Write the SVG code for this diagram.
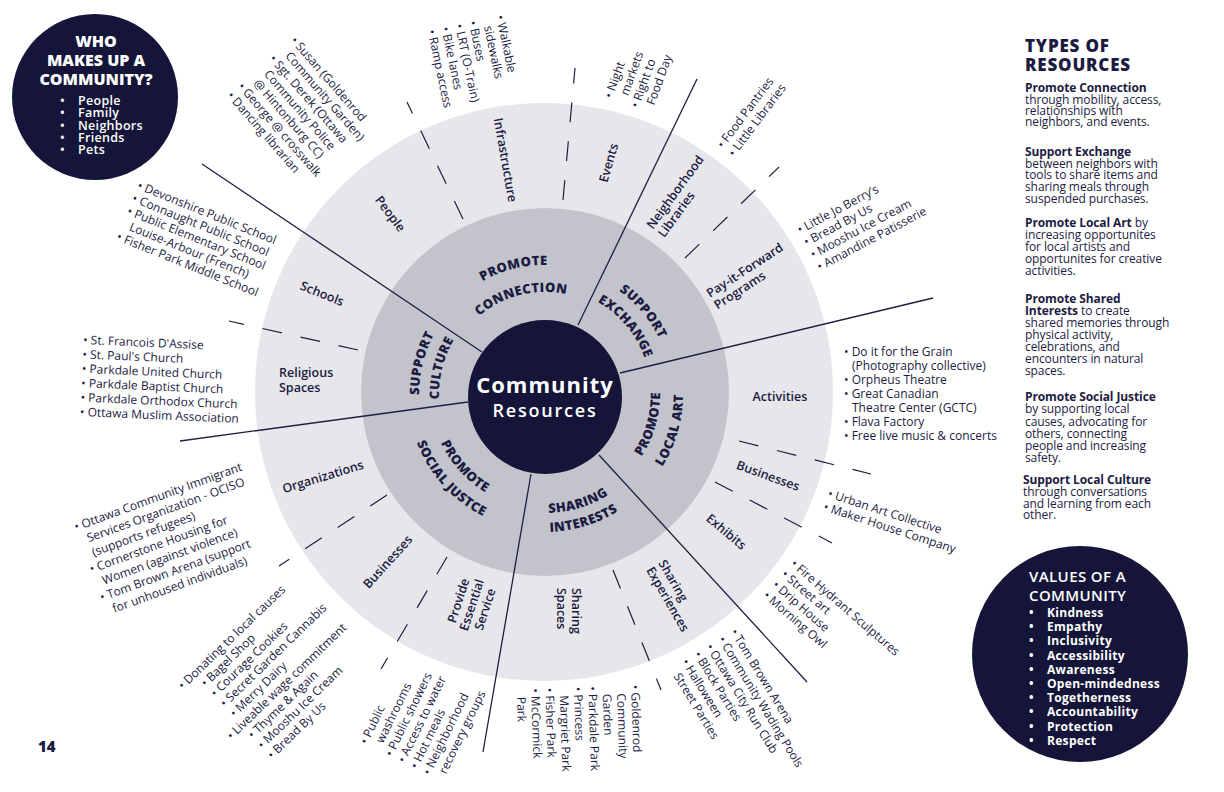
<svg xmlns="http://www.w3.org/2000/svg" width="1224" height="792" viewBox="0 0 1224 792">
<style>
.t{font-family:'Open Sans','Liberation Sans',sans-serif;fill:#1c1c42}
.l{font-size:12px}
.lab{font-size:12.5px;font-weight:600}
.mid{font-family:'Open Sans','Liberation Sans',sans-serif;fill:#1c1c42;font-size:13px;font-weight:800;letter-spacing:0.4px}
.w{font-family:'Open Sans','Liberation Sans',sans-serif;fill:#ffffff}
.div{stroke:#1e1e44;stroke-width:1.3;fill:none}
.dash{stroke:#1e1e44;stroke-width:1.2;fill:none;stroke-dasharray:20 19}
.p{font-size:12px;letter-spacing:-0.1px}
.bd{font-weight:700}
</style>
<defs>
<path id="pc1" d="M 421.0 358.4 A 129 129 0 0 1 637.8 304.4"/>
<path id="pc2" d="M 446.9 365.9 A 102 102 0 0 1 618.4 323.1"/>
<path id="se1" d="M 523.0 268.9 A 127 127 0 0 1 664.3 437.4"/>
<path id="se2" d="M 526.6 289.6 A 106 106 0 0 1 644.6 430.3"/>
<path id="sc1" d="M 457.5 484.6 A 126 126 0 0 1 510.3 272.9"/>
<path id="sc2" d="M 471.4 470.2 A 106 106 0 0 1 515.8 292.1"/>
<path id="la1" d="M 572.8 505.6 A 115 115 0 0 0 627.7 314.1"/>
<path id="la2" d="M 578.4 527.9 A 138 138 0 0 0 644.3 298.1"/>
<path id="si1" d="M 463.8 481.0 A 119 119 0 0 0 661.0 420.8"/>
<path id="si2" d="M 450.9 494.9 A 138 138 0 0 0 679.5 425.1"/>
<path id="sj1" d="M 435.6 358.5 A 115 115 0 0 0 568.9 506.5"/>
<path id="sj2" d="M 414.7 351.7 A 137 137 0 0 0 573.5 528.0"/>
</defs>
<rect width="1224" height="792" fill="#ffffff"/>

<g id="wheel">
<circle cx="544" cy="392" r="289" fill="#e7e7eb"/>
<circle cx="545" cy="392" r="184" fill="#c3c3cc"/>
</g>

<g id="connectors">
<line class="div" x1="202" y1="164" x2="482" y2="352"/>
<line class="div" x1="697" y1="79" x2="578" y2="325"/>
<line class="div" x1="933" y1="298" x2="620" y2="373"/>
<line class="div" x1="180" y1="441" x2="468" y2="402"/>
<line class="div" x1="483" y1="752" x2="531" y2="474"/>
<line class="div" x1="807" y1="682" x2="599" y2="455"/>
<line class="dash" x1="463" y1="219" x2="407" y2="102"/>
<line class="dash" x1="563" y1="200" x2="575" y2="68"/>
<line class="dash" x1="685" y1="258" x2="779" y2="167"/>
<line class="dash" x1="739" y1="441" x2="871" y2="474"/>
<line class="dash" x1="715" y1="482" x2="832" y2="543"/>
<line class="dash" x1="613" y1="570" x2="661" y2="690"/>
<line class="dash" x1="447" y1="557" x2="381" y2="669"/>
<line class="dash" x1="387" y1="495" x2="279" y2="566"/>
<line class="dash" x1="358" y1="350" x2="229" y2="321"/>
</g>

<g id="center">
<circle cx="545" cy="397" r="77" fill="#141538"/>
<text class="w" x="545" y="393" text-anchor="middle" font-size="22" font-weight="700" letter-spacing="1">Community</text>
<text class="w" x="545" y="417" text-anchor="middle" font-size="18" font-weight="600" letter-spacing="1.8">Resources</text>
</g>

<g id="promote-connection">
<text class="mid"><textPath href="#pc1" startOffset="50%" text-anchor="middle">PROMOTE</textPath></text>
<text class="mid"><textPath href="#pc2" startOffset="50%" text-anchor="middle">CONNECTION</textPath></text>
</g>
<g id="support-exchange">
<text class="mid"><textPath href="#se1" startOffset="50%" text-anchor="middle">SUPPORT</textPath></text>
<text class="mid"><textPath href="#se2" startOffset="50%" text-anchor="middle">EXCHANGE</textPath></text>
</g>
<g id="promote-local-art">
<text class="mid"><textPath href="#la1" startOffset="50%" text-anchor="middle">PROMOTE</textPath></text>
<text class="mid"><textPath href="#la2" startOffset="50%" text-anchor="middle">LOCAL ART</textPath></text>
</g>
<g id="sharing-interests">
<text class="mid"><textPath href="#si1" startOffset="50%" text-anchor="middle">SHARING</textPath></text>
<text class="mid"><textPath href="#si2" startOffset="50%" text-anchor="middle">INTERESTS</textPath></text>
</g>
<g id="promote-social-justice">
<text class="mid"><textPath href="#sj1" startOffset="50%" text-anchor="middle">PROMOTE</textPath></text>
<text class="mid"><textPath href="#sj2" startOffset="50%" text-anchor="middle">SOCIAL JUSTCE</textPath></text>
</g>
<g id="support-culture">
<text class="mid"><textPath href="#sc1" startOffset="50%" text-anchor="middle">SUPPORT</textPath></text>
<text class="mid"><textPath href="#sc2" startOffset="50%" text-anchor="middle">CULTURE</textPath></text>
</g>

<g id="people">
<text class="t lab" transform="translate(390 214) rotate(53)" text-anchor="middle" y="4">People</text>
<text class="t l" transform="translate(290 41) rotate(49)"><tspan x="0" y="0">• Susan (Goldenrod</tspan><tspan x="8" y="14">Community Garden)</tspan><tspan x="0" y="28">• Sgt. Derek (Ottawa</tspan><tspan x="8" y="42">Community Police</tspan><tspan x="8" y="56">@ Hintonburg CC)</tspan><tspan x="0" y="70">• George @ crosswalk</tspan><tspan x="0" y="84">• Dancing librarian</tspan></text>
</g>
<g id="infrastructure">
<text class="t lab" transform="translate(505 160) rotate(80)" text-anchor="middle" y="4">Infrastructure</text>
<text class="t l" transform="translate(496 16) rotate(78)"><tspan x="0" y="0">• Walkable</tspan><tspan x="8" y="14">sidewalks</tspan><tspan x="0" y="28">• Buses</tspan><tspan x="0" y="42">• LRT (O-Train)</tspan><tspan x="0" y="56">• Bike lanes</tspan><tspan x="0" y="70">• Ramp access</tspan></text>
</g>
<g id="events">
<text class="t lab" transform="translate(609 163) rotate(-74)" text-anchor="middle" y="4">Events</text>
<text class="t l" transform="translate(612 99) rotate(-70)"><tspan x="0" y="0">• Night</tspan><tspan x="8" y="14">markets</tspan><tspan x="0" y="28">• Right to</tspan><tspan x="8" y="42">Food Day</tspan></text>
</g>
<g id="neighborhood-libraries">
<text class="t lab" transform="translate(653 230) rotate(-54)"><tspan x="0" y="0">Neighborhood</tspan><tspan x="0" y="14">Libraries</tspan></text>
<text class="t l" transform="translate(723 149) rotate(-53)"><tspan x="0" y="0">• Food Pantries</tspan><tspan x="0" y="14">• Little Libraries</tspan></text>
</g>
<g id="pay-it-forward">
<text class="t lab" transform="translate(710 298) rotate(-33)"><tspan x="0" y="0">Pay-it-Forward</tspan><tspan x="0" y="14">Programs</tspan></text>
<text class="t l" transform="translate(800 234) rotate(-28)"><tspan x="0" y="0">• Little Jo Berry’s</tspan><tspan x="0" y="14">• Bread By Us</tspan><tspan x="0" y="28">• Mooshu Ice Cream</tspan><tspan x="0" y="42">• Amandine Patisserie</tspan></text>
</g>
<g id="activities">
<text class="t lab" x="780" y="401" text-anchor="middle">Activities</text>
<text class="t l"><tspan x="844" y="356">• Do it for the Grain</tspan><tspan x="852" y="370">(Photography collective)</tspan><tspan x="844" y="384">• Orpheus Theatre</tspan><tspan x="844" y="398">• Great Canadian</tspan><tspan x="852" y="412">Theatre Center (GCTC)</tspan><tspan x="844" y="426">• Flava Factory</tspan><tspan x="844" y="440">• Free live music &amp; concerts</tspan></text>
</g>
<g id="art-businesses">
<text class="t lab" transform="translate(768 476) rotate(20)" text-anchor="middle" y="4">Businesses</text>
<text class="t l" transform="translate(827 497) rotate(18)"><tspan x="0" y="0">• Urban Art Collective</tspan><tspan x="0" y="14">• Maker House Company</tspan></text>
</g>
<g id="exhibits">
<text class="t lab" transform="translate(726 532) rotate(40)" text-anchor="middle" y="4">Exhibits</text>
<text class="t l" transform="translate(790 565) rotate(41)"><tspan x="0" y="0">• Fire Hydrant Sculptures</tspan><tspan x="0" y="14">• Street art</tspan><tspan x="0" y="28">• Drip House</tspan><tspan x="0" y="42">• Morning Owl</tspan></text>
</g>
<g id="sharing-experiences">
<text class="t lab" transform="translate(658 563) rotate(60)"><tspan x="0" y="0">Sharing</tspan><tspan x="0" y="14">Experiences</tspan></text>
<text class="t l" transform="translate(730 632) rotate(58.5)"><tspan x="0" y="0">• Tom Brown Arena</tspan><tspan x="0" y="14.3">• Community Wading Pools</tspan><tspan x="0" y="28.6">• Ottawa City Run Club</tspan><tspan x="0" y="42.9">• Block Parties</tspan><tspan x="0" y="57.2">• Halloween</tspan><tspan x="8" y="71.5">Street Parties</tspan></text>
</g>
<g id="sharing-spaces">
<text class="t lab" transform="translate(572 588) rotate(90)"><tspan x="0" y="0">Sharing</tspan><tspan x="0" y="15">Spaces</tspan></text>
<text class="t l" transform="translate(631 685) rotate(88)"><tspan x="0" y="0">• Goldenrod</tspan><tspan x="8" y="14.3">Community</tspan><tspan x="8" y="28.6">Garden</tspan><tspan x="0" y="42.9">• Parkdale Park</tspan><tspan x="0" y="57.2">• Princess</tspan><tspan x="8" y="71.5">Margriet Park</tspan><tspan x="0" y="85.8">• Fisher Park</tspan><tspan x="0" y="100.1">• McCormick</tspan><tspan x="8" y="114.4">Park</tspan></text>
</g>
<g id="essential-service">
<text class="t lab" transform="translate(472 605) rotate(-72)" text-anchor="middle"><tspan x="0" y="-10">Provide</tspan><tspan x="0" y="4">Essential</tspan><tspan x="0" y="18">Service</tspan></text>
<text class="t l" transform="translate(367 745) rotate(-64)"><tspan x="0" y="0">• Public</tspan><tspan x="8" y="14">washrooms</tspan><tspan x="0" y="28">• Public showers</tspan><tspan x="0" y="42">• Access to water</tspan><tspan x="0" y="56">• Hot meals</tspan><tspan x="0" y="70">• Neighborhood</tspan><tspan x="8" y="84">recovery groups</tspan></text>
</g>
<g id="justice-businesses">
<text class="t lab" transform="translate(388 562) rotate(-48)" text-anchor="middle" y="4">Businesses</text>
<text class="t l" transform="translate(183 690) rotate(-44)"><tspan x="0" y="0">• Donating to local causes</tspan><tspan x="18" y="14">• Bagel Shop</tspan><tspan x="18" y="28">• Courage Cookies</tspan><tspan x="18" y="42">• Secret Garden Cannabis</tspan><tspan x="18" y="56">• Merry Dairy</tspan><tspan x="0" y="70">• Liveable wage commitment</tspan><tspan x="16" y="84">• Thyme &amp; Again</tspan><tspan x="16" y="98">• Mooshu Ice Cream</tspan><tspan x="16" y="112">• Bread By Us</tspan></text>
</g>
<g id="organizations">
<text class="t lab" transform="translate(323 477) rotate(-17)" text-anchor="middle" y="4">Organizations</text>
<text class="t l" transform="translate(76 531) rotate(-20)"><tspan x="0" y="0">• Ottawa Community Immigrant</tspan><tspan x="8" y="15">Services Organization - OCISO</tspan><tspan x="8" y="30">(supports refugees)</tspan><tspan x="0" y="45">• Cornerstone Housing for</tspan><tspan x="8" y="60">Women (against violence)</tspan><tspan x="0" y="75">• Tom Brown Arena (support</tspan><tspan x="8" y="90">for unhoused individuals)</tspan></text>
</g>
<g id="religious-spaces">
<text class="t lab"><tspan x="279" y="377">Religious</tspan><tspan x="279" y="391.5">Spaces</tspan></text>
<text class="t l" transform="translate(83 344) rotate(2.5)"><tspan x="0" y="0">• St. Francois D'Assise</tspan><tspan x="0" y="14.4">• St. Paul's Church</tspan><tspan x="0" y="28.8">• Parkdale United Church</tspan><tspan x="0" y="43.2">• Parkdale Baptist Church</tspan><tspan x="0" y="57.6">• Parkdale Orthodox Church</tspan><tspan x="0" y="72">• Ottawa Muslim Association</tspan></text>
</g>
<g id="schools">
<text class="t lab" transform="translate(322 294) rotate(22)" text-anchor="middle" y="4">Schools</text>
<text class="t l" transform="translate(136.5 188.7) rotate(22)"><tspan x="0" y="0">• Devonshire Public School</tspan><tspan x="0" y="13.8">• Connaught Public School</tspan><tspan x="0" y="27.6">• Public Elementary School</tspan><tspan x="8" y="41.4">Louise-Arbour (French)</tspan><tspan x="0" y="55.2">• Fisher Park Middle School</tspan></text>
</g>

<g id="who-makes-up">
<circle cx="95" cy="97" r="83" fill="#141538"/>
<text class="w" text-anchor="middle" font-size="16" font-weight="800"><tspan x="96" y="47">WHO</tspan><tspan x="96" y="66">MAKES UP A</tspan><tspan x="96" y="85">COMMUNITY?</tspan></text>
<text class="w" font-size="12.5" font-weight="600" letter-spacing="0.3"><tspan x="60" y="105">•</tspan><tspan x="78" y="105">People</tspan><tspan x="60" y="117.3">•</tspan><tspan x="78" y="117.3">Family</tspan><tspan x="60" y="129.6">•</tspan><tspan x="78" y="129.6">Neighbors</tspan><tspan x="60" y="141.9">•</tspan><tspan x="78" y="141.9">Friends</tspan><tspan x="60" y="154.2">•</tspan><tspan x="78" y="154.2">Pets</tspan></text>
</g>

<g id="values">
<circle cx="1080" cy="654" r="108" fill="#141538"/>
<text class="w" font-size="15" font-weight="600" letter-spacing="0.4"><tspan x="1029" y="582">VALUES OF A</tspan><tspan x="1029" y="601">COMMUNITY</tspan></text>
<text class="w" font-size="12" font-weight="700" letter-spacing="0.3"><tspan x="1029" y="617">•</tspan><tspan x="1047" y="617">Kindness</tspan><tspan x="1029" y="631.2">•</tspan><tspan x="1047" y="631.2">Empathy</tspan><tspan x="1029" y="645.4">•</tspan><tspan x="1047" y="645.4">Inclusivity</tspan><tspan x="1029" y="659.6">•</tspan><tspan x="1047" y="659.6">Accessibility</tspan><tspan x="1029" y="673.8">•</tspan><tspan x="1047" y="673.8">Awareness</tspan><tspan x="1029" y="688">•</tspan><tspan x="1047" y="688">Open-mindedness</tspan><tspan x="1029" y="702.2">•</tspan><tspan x="1047" y="702.2">Togetherness</tspan><tspan x="1029" y="716.4">•</tspan><tspan x="1047" y="716.4">Accountability</tspan><tspan x="1029" y="730.6">•</tspan><tspan x="1047" y="730.6">Protection</tspan><tspan x="1029" y="744.8">•</tspan><tspan x="1047" y="744.8">Respect</tspan></text>
</g>

<g id="types-of-resources">
<text class="t" font-size="17" font-weight="800" letter-spacing="0.8"><tspan x="1025" y="52">TYPES OF</tspan><tspan x="1025" y="71">RESOURCES</tspan></text>
<text class="t p">
<tspan x="1025" y="92.3" class="bd">Promote Connection</tspan>
<tspan x="1025" y="103.5">through mobility, access,</tspan>
<tspan x="1025" y="114.5">relationships with</tspan>
<tspan x="1025" y="125.5">neighbors, and events.</tspan>
<tspan x="1025" y="156" class="bd">Support Exchange</tspan>
<tspan x="1025" y="167.7">between neighbors with</tspan>
<tspan x="1025" y="179.3">tools to share items and</tspan>
<tspan x="1025" y="190.8">sharing meals through</tspan>
<tspan x="1025" y="202.5">suspended purchases.</tspan>
<tspan x="1025" y="227.3" class="bd">Promote Local Art</tspan><tspan> by</tspan>
<tspan x="1025" y="239">increasing opportunites</tspan>
<tspan x="1025" y="250.7">for local artists and</tspan>
<tspan x="1025" y="263">opportunites for creative</tspan>
<tspan x="1025" y="275">activities.</tspan>
<tspan x="1025" y="302.5" class="bd">Promote Shared</tspan>
<tspan x="1025" y="314.5" class="bd">Interests</tspan><tspan> to create</tspan>
<tspan x="1025" y="326.5">shared memories through</tspan>
<tspan x="1025" y="338.5">physical activity,</tspan>
<tspan x="1025" y="350.7">celebrations, and</tspan>
<tspan x="1025" y="363">encounters in natural</tspan>
<tspan x="1025" y="375">spaces.</tspan>
<tspan x="1025" y="400.7" class="bd">Promote Social Justice</tspan>
<tspan x="1025" y="413">by supporting local</tspan>
<tspan x="1025" y="425.5">causes, advocating for</tspan>
<tspan x="1025" y="437.5">others, connecting</tspan>
<tspan x="1025" y="450">people and increasing</tspan>
<tspan x="1025" y="462">safety.</tspan>
<tspan x="1023" y="484" class="bd">Support Local Culture</tspan>
<tspan x="1023" y="496">through conversations</tspan>
<tspan x="1023" y="507.7">and learning from each</tspan>
<tspan x="1023" y="519.3">other.</tspan>
</text>
</g>

<g id="page-number">
<text class="t" x="38" y="752" font-size="15" font-weight="800">14</text>
</g>
</svg>
